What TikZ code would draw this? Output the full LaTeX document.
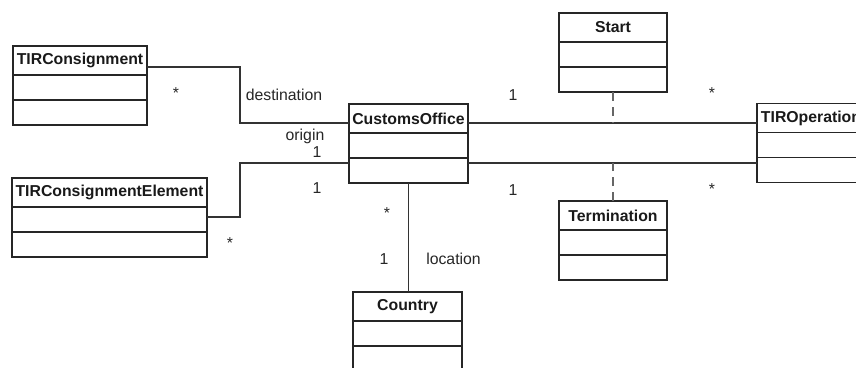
\documentclass[tikz,border=0pt]{standalone}
\usepackage{fontspec}
\setmainfont{Liberation Sans}
\usetikzlibrary{positioning}
\tikzset{
    classbox/.style={
        rectangle,
        draw=black!85,
        line width=1.1pt,
        minimum width=#1,
        minimum height=29pt,
        inner sep=0pt,
        outer sep=0pt,
        text=black!90,
        font=\fontsize{15.8}{18}\selectfont\bfseries
    },
    compart/.style={
        rectangle,
        draw=black!85,
        line width=1.1pt,
        minimum width=#1,
        minimum height=25pt,
        inner sep=0pt,
        outer sep=0pt
    },
    mainclass/.style={
        line width=2.2pt
    },
    mult/.style={
        inner sep=0pt,
        text=black!85,
        font=\fontsize{15.8}{18}\selectfont
    },
    link/.style={
        draw=black!80,
        line width=1.2pt
    },
    depend/.style={
        draw=black!60,
        line width=1.4pt,
        dash pattern=on 9pt off 6pt
    }
}

\begin{document}
\begin{tikzpicture}[x=1pt,y=-1pt]
\useasboundingbox (0,0) rectangle (856,367);
\clip (0,0) rectangle (856,367);

% classes
\node[classbox=134pt] (tc) at (80,60.5) {TIRConsignment};
\node[compart=134pt, below=0pt of tc] (tc1) {};
\node[compart=134pt, below=0pt of tc1] (tc2) {};

\node[classbox=195pt] (tce) at (109.5,192.5) {TIRConsignmentElement};
\node[compart=195pt, below=0pt of tce] (tce1) {};
\node[compart=195pt, below=0pt of tce1] (tce2) {};

\node[classbox=119pt, mainclass] (co) at (408.5,118.5) {CustomsOffice};
\node[compart=119pt, mainclass, below=0pt of co] (co1) {};
\node[compart=119pt, mainclass, below=0pt of co1] (co2) {};

\node[classbox=108pt] (st) at (613,27.5) {Start};
\node[compart=108pt, below=0pt of st] (st1) {};
\node[compart=108pt, below=0pt of st1] (st2) {};

\node[classbox=108pt] (tm) at (613,215.5) {Termination};
\node[compart=108pt, below=0pt of tm] (tm1) {};
\node[compart=108pt, below=0pt of tm1] (tm2) {};

\node[classbox=108pt] (tirop) at (811,118) {TIROperation};
\node[compart=108pt, below=0pt of tirop] (tirop1) {};
\node[compart=108pt, below=0pt of tirop1] (tirop2) {};

\node[classbox=109pt] (cty) at (407.5,306.5) {Country};
\node[compart=109pt, below=0pt of cty] (cty1) {};
\node[compart=109pt, below=0pt of cty1] (cty2) {};

% associations
\coordinate (a1) at ([yshift=-4.5pt]co.east);
\coordinate (a2) at ([yshift=7.5pt]co2.east);
\path[link]
  ([yshift=-6.5pt]tc.east) -- ++(93,0) |- ([yshift=-4.5pt]co.west)
  ([yshift=2.5pt]tce1.east) -- ++(33,0) |- ([yshift=7.5pt]co2.west)
  (a1) -- (a1 -| tirop.west)
  (a2) -- (a2 -| tirop2.west)
  (co2.south) -- (co2.south |- cty.north);
\path[depend]
  (st2.south) -- (st2.south |- a1)
  (tm.north) -- (tm.north |- a2);

% roles and multiplicities
\node[mult] (m1) at (176,93.5) {*};
\node[mult] (r1) at (284,95) {destination};
\node[mult] (r2) at (305,136) {origin};
\node[mult] (m2) at (317,152) {1};
\node[mult] (m3) at (317,188) {1};
\node[mult] (m4) at (230,243.5) {*};
\node[mult] (m5) at (513,95) {1};
\node[mult] (m6) at (712,93.5) {*};
\node[mult] (m7) at (513,190) {1};
\node[mult] (m8) at (712,189.5) {*};
\node[mult] (m9) at (387,213.5) {*};
\node[mult] (m10) at (384,259) {1};
\node[mult] (r3) at (453.5,259) {location};
\end{tikzpicture}
\end{document}
